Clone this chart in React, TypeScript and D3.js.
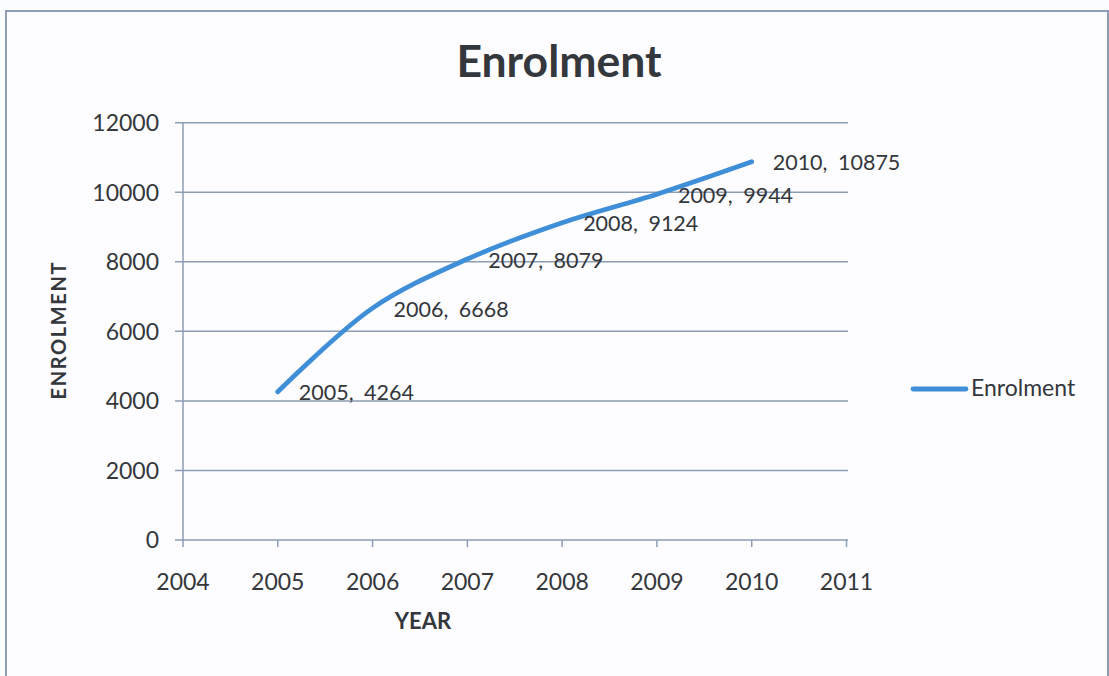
import React from "react";
import * as d3 from "d3";

const years = [2005, 2006, 2007, 2008, 2009, 2010];
const enrolment = [4264, 6668, 8079, 9124, 9944, 10875];
const xTicks = [2004, 2005, 2006, 2007, 2008, 2009, 2010, 2011];
const yTicks = [0, 2000, 4000, 6000, 8000, 10000, 12000];
const title = "Enrolment";
const xTitle = "YEAR";
const yTitle = "ENROLMENT";
const seriesName = "Enrolment";

const W = 1109;
const H = 676;
const FONT = "Lato, 'Open Sans', sans-serif";
const TEXT = "#34373b";
const GRID = "#8d9db4";
const BLUE = "#3f8ed8";

export default function App() {
  const x = d3.scaleLinear().domain([2004, 2011]).range([183, 846.5]);
  const y = d3.scaleLinear().domain([0, 12000]).range([540, 122.7]);
  const pts: [number, number][] = years.map((yr, i) => [x(yr), y(enrolment[i])]);
  const line = d3.line().curve(d3.curveCatmullRom.alpha(0.5))(pts) || "";
  const [x0, x1] = x.range();
  const yBase = y(0);
  const yTop = y(12000);

  return (
    <svg
      width={W}
      height={H}
      viewBox={`0 0 ${W} ${H}`}
      style={{ position: "absolute", left: 0, top: 0, display: "block", background: "#fbfcfe" }}
      fontFamily={FONT}
    >
      <rect x={6} y={11} width={1102} height={700} fill="#fdfdff" stroke={GRID} strokeWidth={2} />
      <text x={559} y={77} textAnchor="middle" fontSize={44.5} fontWeight={700} fill={TEXT}>
        {title}
      </text>
      {yTicks.map((t) => (
        <g key={"y" + t}>
          <line x1={x0 - 8} x2={x1 + 1.5} y1={y(t)} y2={y(t)} stroke={GRID} strokeWidth={1.5} />
          <text x={159} y={y(t) + 8.3} textAnchor="end" fontSize={23} fill={TEXT}>
            {t}
          </text>
        </g>
      ))}
      <line x1={x0} x2={x0} y1={yTop} y2={yBase} stroke={GRID} strokeWidth={1.5} />
      {xTicks.map((t) => (
        <g key={"x" + t}>
          <line x1={x(t)} x2={x(t)} y1={yBase} y2={yBase + 7} stroke={GRID} strokeWidth={1.5} />
          <text x={x(t)} y={590} textAnchor="middle" fontSize={23} fill={TEXT}>
            {t}
          </text>
        </g>
      ))}
      <path d={line} fill="none" stroke={BLUE} strokeWidth={4.8} strokeLinecap="round" strokeLinejoin="round" />
      {years.map((yr, i) => (
        <text key={"l" + yr} x={x(yr) + 21} y={y(enrolment[i]) + 8.5} fontSize={21.5} fill={TEXT} wordSpacing={5}>
          {`${yr}, ${enrolment[i]}`}
        </text>
      ))}
      <text x={423} y={629} textAnchor="middle" fontSize={22} fontWeight={700} fill={TEXT}>
        {xTitle}
      </text>
      <text
        transform={`translate(66, 331) rotate(-90)`}
        textAnchor="middle"
        fontSize={20}
        fontWeight={700}
        fill={TEXT}
        textLength={137}
        lengthAdjust="spacing"
      >
        {yTitle}
      </text>
      <line x1={913} x2={966} y1={389} y2={389} stroke={BLUE} strokeWidth={4.8} strokeLinecap="round" />
      <text x={971} y={396} fontSize={23} fill={TEXT}>
        {seriesName}
      </text>
    </svg>
  );
}
